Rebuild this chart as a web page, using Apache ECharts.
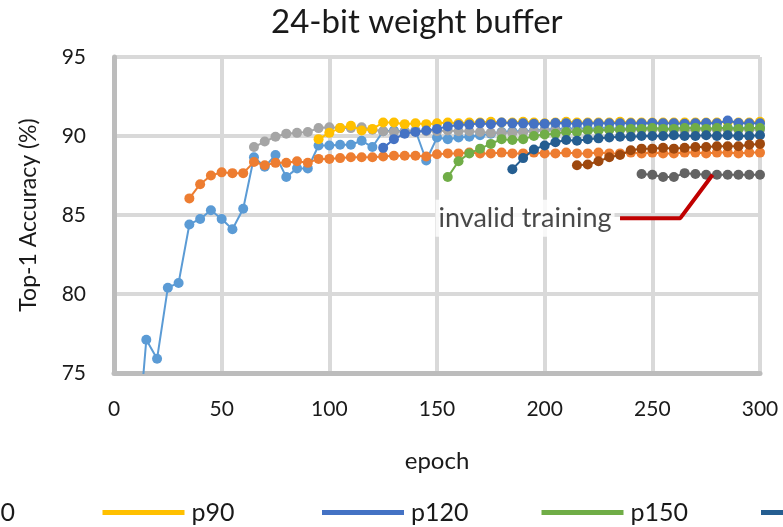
<!DOCTYPE html>
<html>
<head>
<meta charset="utf-8">
<script src="https://cdn.jsdelivr.net/npm/echarts@6/dist/echarts.min.js"></script>
<style>
  html, body { margin: 0; padding: 0; background: #ffffff; }
  #chart { width: 783px; height: 527px; }
</style>
</head>
<body>
<div id="chart"></div>
<script>
// Runs that switch to the 24-bit weight buffer at different epochs
const seriesNames  = ['p0', 'p30', 'p60', 'p90', 'p120', 'p150', 'p180', 'p210', 'p240'];
const seriesColors = ['#5B9BD5', '#ED7D31', '#A5A5A5', '#FFC000', '#4472C4', '#70AD47', '#255E91', '#9E480E', '#636363'];
const firstEpoch   = [10, 35, 65, 95, 125, 155, 185, 215, 245];
const epochStep    = 5;

// Top-1 accuracy (%) recorded every 5 epochs, starting at firstEpoch
const accP0 = [69.0, 77.1, 75.9, 80.4, 80.7, 84.4, 84.75, 85.3, 84.75, 84.1,
               85.4, 88.65, 88.05, 88.8, 87.4, 87.95, 87.95, 89.4, 89.4, 89.45,
               89.45, 89.7, 89.3, 90.3, 90.35, 90.3, 90.35, 88.45, 89.9, 89.8,
               89.9, 89.95, 90.05, 90.15, 90.25, 90.3, 90.3, 90.35, 90.4, 90.45,
               90.45, 90.5, 90.45, 90.5, 90.5, 90.45, 90.5, 90.5, 90.5, 90.45,
               90.5, 90.5, 90.5, 90.45, 90.5, 90.5, 90.5, 90.5, 90.5];
const accP30 = [86.05, 86.95, 87.5, 87.7, 87.65, 87.65, 88.35, 88.15, 88.3, 88.3,
                88.4, 88.3, 88.55, 88.55, 88.6, 88.65, 88.65, 88.65, 88.7, 88.75,
                88.75, 88.75, 88.7, 88.85, 88.9, 88.9, 88.95, 88.9, 88.9, 88.95,
                88.9, 88.9, 88.95, 88.9, 88.9, 88.95, 88.9, 88.9, 88.95, 88.9,
                88.9, 88.95, 88.9, 88.95, 88.9, 88.9, 88.95, 88.95, 88.9, 88.95,
                88.95, 88.9, 88.95, 88.95];
const accP60 = [89.3, 89.65, 89.95, 90.15, 90.2, 90.25, 90.5, 90.55, 90.5, 90.5,
                90.55, 90.4, 90.3, 90.25, 90.3, 90.3, 90.3, 90.3, 90.35, 90.3,
                90.3, 90.25, 90.2, 90.2, 90.2, 90.25, 90.3, 90.35, 90.35, 90.35,
                90.4, 90.35, 90.4, 90.4, 90.4, 90.35, 90.4, 90.4, 90.4, 90.4,
                90.35, 90.4, 90.4, 90.4, 90.4, 90.4, 90.4, 90.4];
const accP90 = [89.8, 90.2, 90.5, 90.65, 90.35, 90.45, 90.85, 90.85, 90.75, 90.8,
                90.75, 90.8, 90.85, 90.8, 90.85, 90.85, 90.9, 90.85, 90.85, 90.9,
                90.85, 90.8, 90.85, 90.9, 90.85, 90.85, 90.85, 90.85, 90.9, 90.85,
                90.85, 90.85, 90.85, 90.85, 90.85, 90.85, 90.85, 90.85, 90.9, 90.85,
                90.85, 90.9];
const accP120 = [89.25, 89.8, 90.15, 90.25, 90.35, 90.45, 90.6, 90.7, 90.72, 90.8,
                 90.75, 90.85, 90.8, 90.8, 90.78, 90.78, 90.82, 90.8, 90.78, 90.8,
                 90.8, 90.8, 90.8, 90.8, 90.8, 90.82, 90.8, 90.8, 90.78, 90.8,
                 90.82, 90.8, 90.98, 90.82, 90.8, 90.8];
const accP150 = [87.4, 88.4, 88.9, 89.2, 89.5, 89.8, 89.75, 89.8, 90.0, 90.1,
                 90.15, 90.25, 90.25, 90.35, 90.35, 90.4, 90.4, 90.45, 90.45, 90.5,
                 90.45, 90.45, 90.5, 90.5, 90.45, 90.5, 90.5, 90.45, 90.5, 90.5];
const accP180 = [87.9, 88.6, 89.15, 89.4, 89.6, 89.75, 89.7, 89.8, 89.85, 89.9,
                 89.95, 89.95, 90.0, 90.0, 90.0, 90.05, 90.0, 90.0, 90.05, 90.0,
                 90.05, 90.0, 90.0, 90.05];
const accP210 = [88.15, 88.2, 88.4, 88.65, 88.8, 89.1, 89.2, 89.2, 89.25, 89.2,
                 89.25, 89.3, 89.3, 89.35, 89.35, 89.35, 89.45, 89.5];
const accP240 = [87.6, 87.55, 87.4, 87.4, 87.65, 87.6, 87.55, 87.55, 87.55, 87.55,
                 87.55, 87.55];
const accuracyRuns = [accP0, accP30, accP60, accP90, accP120, accP150, accP180, accP210, accP240];

// Callout marking the run that did not train properly
const calloutText   = 'invalid training';
const calloutEpochs = [235, 263, 278];
const calloutAcc    = [84.8, 84.8, 87.55];

// Axis ticks
const xTicks = { min: 0, max: 300, step: 50 };
const yTicks = { min: 75, max: 95, step: 5 };

const FONT = 'Lato';
const INK = '#1a1a1a';

// Legend row: equal-width slots, one per run, wider than the page
const LEGEND_FIRST_LEFT = -561;
const LEGEND_SLOT = 219.5;

function toPoints(start, values) {
  return values.map((v, i) => [start + i * epochStep, v]);
}

const runSeries = seriesNames.map((name, k) => ({
  name: name,
  type: 'line',
  data: toPoints(firstEpoch[k], accuracyRuns[k]),
  color: seriesColors[k],
  symbol: 'circle',
  symbolSize: 10,
  showSymbol: true,
  lineStyle: { width: 2, color: seriesColors[k] },
  itemStyle: { color: seriesColors[k] },
  clip: true,
  animation: false,
  z: 2 + k
}));

const calloutLine = {
  name: 'callout',
  type: 'line',
  data: calloutEpochs.map((e, i) => [e, calloutAcc[i]]),
  showSymbol: false,
  symbol: 'none',
  lineStyle: { width: 4, color: '#C00000' },
  animation: false,
  silent: true,
  z: 20
};

const calloutLabel = {
  name: 'callout-label',
  type: 'scatter',
  data: [[calloutEpochs[0], calloutAcc[0]]],
  symbolSize: 1,
  itemStyle: { color: 'rgba(0,0,0,0)' },
  label: {
    show: true,
    position: 'left',
    distance: 5,
    formatter: calloutText,
    fontFamily: FONT,
    fontSize: 27,
    color: INK,
    backgroundColor: '#ffffff',
    padding: [5, 3, 5, 3]
  },
  animation: false,
  silent: true,
  z: 21
};

const legends = seriesNames.map((name, k) => ({
  data: [name],
  left: LEGEND_FIRST_LEFT + k * LEGEND_SLOT,
  top: 495,
  orient: 'horizontal',
  icon: 'rect',
  itemWidth: 82,
  itemHeight: 5,
  textStyle: { fontFamily: FONT, fontSize: 25, color: INK, padding: [0, 0, 0, 2] }
}));

const chart = echarts.init(document.getElementById('chart'), null, { renderer: 'canvas' });

chart.setOption({
  backgroundColor: '#ffffff',
  animation: false,
  textStyle: { fontFamily: FONT },
  title: {
    text: '24-bit weight buffer',
    left: 266,
    top: 1,
    textStyle: { fontFamily: FONT, fontSize: 33, fontWeight: 'normal', color: INK }
  },
  grid: { left: 114, right: 23, top: 57, bottom: 154, containLabel: false },
  legend: legends,
  xAxis: {
    type: 'value',
    min: xTicks.min,
    max: xTicks.max,
    interval: xTicks.step,
    name: 'epoch',
    nameLocation: 'middle',
    nameGap: 76,
    nameTextStyle: { fontFamily: FONT, fontSize: 24, color: INK },
    axisLine: { show: true, onZero: false, lineStyle: { color: '#bcbcbc', width: 5 } },
    axisTick: { show: false },
    axisLabel: { fontFamily: FONT, fontSize: 21, color: INK, margin: 26 },
    splitLine: { show: true, lineStyle: { color: '#d9d9d9', width: 4 } }
  },
  yAxis: {
    type: 'value',
    min: yTicks.min,
    max: yTicks.max,
    interval: yTicks.step,
    name: 'Top-1 Accuracy (%)',
    nameLocation: 'middle',
    nameGap: 74,
    nameTextStyle: { fontFamily: FONT, fontSize: 23, color: INK },
    axisLine: { show: true, onZero: false, lineStyle: { color: '#bcbcbc', width: 5 } },
    axisTick: { show: false },
    axisLabel: { fontFamily: FONT, fontSize: 21, color: INK, margin: 28 },
    splitLine: { show: true, lineStyle: { color: '#d9d9d9', width: 4 } }
  },
  series: runSeries.concat([calloutLine, calloutLabel])
});
</script>
</body>
</html>
